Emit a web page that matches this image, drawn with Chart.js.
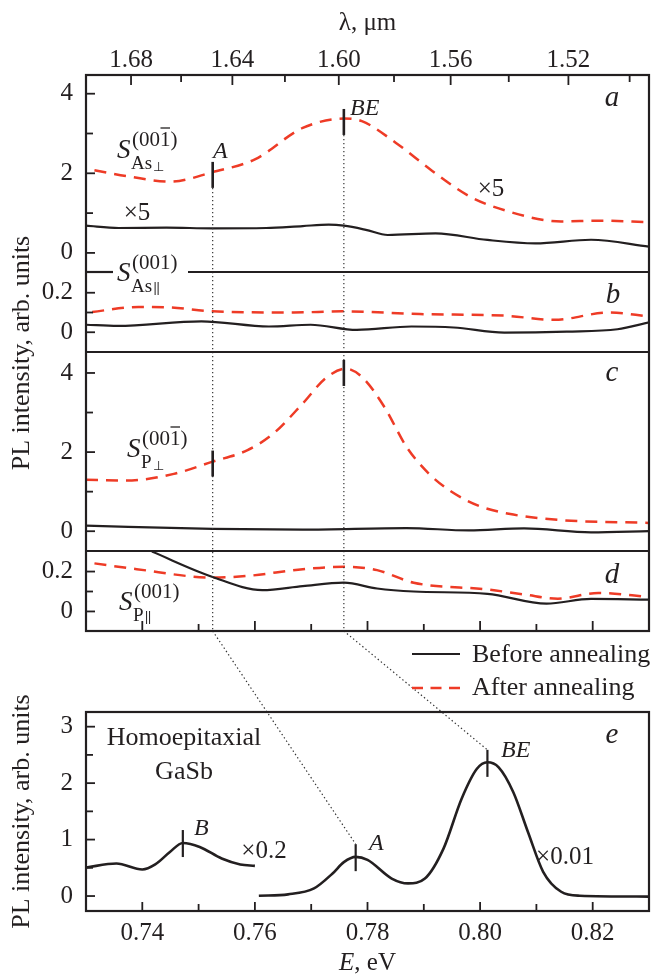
<!DOCTYPE html>
<html><head><meta charset="utf-8">
<script src="https://cdn.jsdelivr.net/npm/chart.js@4.4.1/dist/chart.umd.min.js"></script>
<style>html,body{margin:0;padding:0;background:#fff}canvas{display:block}</style>
</head><body>
<canvas id="c" width="655" height="979"></canvas>
<script>
// ---------------- data (photon energy in eV, PL intensity in arb. units) ----------------
const energyA_before = [0.7300,0.7358,0.7443,0.7525,0.7620,0.7685,0.7731,0.7758,0.7797,0.7836,0.7921,0.8013,0.8098,0.8197,0.8300];
const intensityA_before = [0.683,0.625,0.635,0.617,0.625,0.675,0.708,0.683,0.580,0.450,0.490,0.325,0.240,0.330,0.158];
const energyA_after = [0.7315,0.7380,0.7450,0.7525,0.7600,0.7685,0.7758,0.7790,0.7850,0.7915,0.7980,0.8046,0.8144,0.8210,0.8300];
const intensityA_after = [2.075,1.91,1.79,2.03,2.35,3.14,3.375,3.31,2.77,2.06,1.43,1.06,0.79,0.81,0.77];

const energyB_before = [0.7300,0.7356,0.7505,0.7625,0.7699,0.7781,0.7878,0.7953,0.8043,0.8154,0.8244,0.8300];
const intensityB_before = [0.038,0.032,0.055,0.029,0.038,0.012,0.029,0.024,-0.002,0.003,0.015,0.050];
const energyB_after = [0.7311,0.7393,0.7446,0.7524,0.7669,0.7755,0.7893,0.8043,0.8132,0.8229,0.8300];
const intensityB_after = [0.103,0.128,0.126,0.106,0.100,0.106,0.092,0.084,0.063,0.100,0.080];

const energyC_before = [0.7300,0.7525,0.7685,0.7869,0.7980,0.8078,0.8197,0.8300];
const intensityC_before = [0.14,0.06,0.04,0.08,0.02,0.07,-0.03,0.00];
const energyC_after = [0.7300,0.7371,0.7456,0.7525,0.7587,0.7633,0.7685,0.7725,0.7761,0.7790,0.7830,0.7869,0.7908,0.7948,0.8000,0.8059,0.8144,0.8300];
const intensityC_after = [1.30,1.28,1.45,1.76,2.05,2.47,3.23,3.86,4.11,3.90,3.14,2.14,1.47,1.01,0.63,0.42,0.28,0.21];

const energyD_before = [0.7417,0.7525,0.7613,0.7685,0.7758,0.7817,0.7882,0.8013,0.8118,0.8197,0.8300];
const intensityD_before = [0.300,0.173,0.107,0.127,0.144,0.115,0.100,0.088,0.039,0.063,0.059];
const energyD_after = [0.7315,0.7390,0.7525,0.7587,0.7685,0.7758,0.7817,0.7882,0.8013,0.8079,0.8138,0.8210,0.8300];
const intensityD_after = [0.241,0.212,0.170,0.178,0.212,0.224,0.207,0.144,0.110,0.085,0.064,0.093,0.073];

const energyE_low = [0.7300,0.7354,0.7400,0.7423,0.7449,0.7472,0.7502,0.7541,0.7574,0.7600];
const intensityE_low = [0.506,0.576,0.470,0.560,0.780,0.940,0.870,0.665,0.560,0.535];
const energyE_high = [0.7607,0.7659,0.7705,0.7738,0.7758,0.7779,0.7800,0.7843,0.7872,0.7902,0.7935,0.7967,0.7994,0.8013,0.8033,0.8059,0.8085,0.8112,0.8144,0.8177,0.8300];
const intensityE_high = [0.006,0.030,0.135,0.400,0.600,0.694,0.640,0.310,0.224,0.310,0.840,1.720,2.250,2.370,2.280,1.840,1.135,0.430,0.076,0.006,-0.010];

// peak markers: [energy, intensity]
const markersA = [[0.7525,1.96],[0.7758,3.29]];
const markersC = [[0.7525,1.71],[0.7758,4.00]];
const markersE = [[0.7472,0.93],[0.7779,0.68],[0.8013,2.35]];

// tick values / labels
const energyTicks = [0.74,0.75,0.76,0.77,0.78,0.79,0.80,0.81,0.82];
const energyLabels = ['0.74','','0.76','','0.78','','0.80','','0.82'];
const lambdaTicks = [1.68,1.66,1.64,1.62,1.60,1.58,1.56,1.54,1.52,1.50];
const lambdaLabels = ['1.68','','1.64','','1.60','','1.56','','1.52',''];
const ticksA = [0,1,2,3,4], labelsA = ['0','','2','','4'];
const ticksB = [0,0.1,0.2], labelsB = ['0','','0.2'];
const ticksC = [0,1,2,3,4], labelsC = ['0','','2','','4'];
const ticksD = [0,0.1,0.2], labelsD = ['0','','0.2'];
const ticksE = [0,0.5,1,1.5,2,2.5,3], labelsE = ['0','','1','','2','','3'];
const HC = 1.23984; // eV·µm

// ---------------- styles ----------------
const FONT = '"Liberation Serif", "Times New Roman", serif';
const INK = '#231f20', RED = '#ee3b26';

function pts(xs, ys){ return xs.map((v,i)=>({x:v, y:ys[i]})); }
function solid(xs, ys, axis, w){ return {data:pts(xs,ys), yAxisID:axis, borderColor:INK, borderWidth:w||2.2, pointRadius:0, cubicInterpolationMode:'monotone', fill:false}; }
function dashed(xs, ys, axis){ return {data:pts(xs,ys), yAxisID:axis, borderColor:RED, borderWidth:2.5, borderDash:[12,8], pointRadius:0, cubicInterpolationMode:'monotone', fill:false}; }

function yAxis(weight, stackWeight, min, max, tv, tl){
  return { type:'linear', position:'left', stack:'v', stackWeight, weight, min, max,
    grid:{display:false, drawTicks:false}, border:{display:false},
    afterBuildTicks: s => { s.ticks = tv.map(v=>({value:v})); },
    afterFit: s => { s.width = 86; },
    ticks:{ display: tl.length>0, color:INK, font:{family:FONT, size:25}, padding:13, callback:(v,i)=>tl[i] } };
}

function line(ctx,x1,y1,x2,y2){ ctx.beginPath(); ctx.moveTo(x1,y1); ctx.lineTo(x2,y2); ctx.stroke(); }
function T(ctx, s, x, y, size, o){ o=o||{}; ctx.font=(o.italic?'italic ':'')+size+'px '+FONT; ctx.textAlign=o.align||'left'; ctx.textBaseline=o.base||'alphabetic'; ctx.fillText(s,x,y); }
function sLabel(ctx, x, base, sub, subsub, bar){
  T(ctx,'S',x,base,27,{italic:true});
  ctx.font='italic 27px '+FONT; const w=ctx.measureText('S').width;
  const xs = x + w + 1.5;
  T(ctx,'(001)',xs,base-12,21);
  if(bar){
    ctx.font='21px '+FONT;
    const w1=ctx.measureText('(00').width, w2=ctx.measureText('1').width;
    ctx.save(); ctx.lineWidth=1.3; line(ctx, xs+w1+0.5, base-30, xs+w1+w2-0.5, base-30); ctx.restore();
  }
  T(ctx,sub,xs-1,base+11,19);
  ctx.font='19px '+FONT; const ws=ctx.measureText(sub).width;
  if(bar){ T(ctx,subsub,xs+ws,base+13,13); }
  else { ctx.save(); ctx.lineWidth=1; const bx=xs+ws+2; line(ctx,bx,base+1,bx,base+14); line(ctx,bx+3,base+1,bx+3,base+14); ctx.restore(); }
}

const annot = {
  id:'annot',
  beforeDraw(chart){ const c=chart.ctx; c.save(); c.fillStyle='#fff'; c.fillRect(0,0,chart.width,chart.height); c.restore(); },
  afterDraw(chart){
    const ctx=chart.ctx, s=chart.scales, x=s.x, x2=s.x2;
    const L=chart.chartArea.left, R=chart.chartArea.right;
    const ya=s.ya, yb=s.yb, yc=s.yc, yd=s.yd, ye=s.ye;
    ctx.save();
    ctx.fillStyle=INK; ctx.strokeStyle=INK;

    // dotted guide lines
    ctx.save(); ctx.setLineDash([1.4,2.6]); ctx.lineWidth=1.2; ctx.strokeStyle='#333';
    for(let k=0;k<2;k++){
      const xp = x.getPixelForValue(markersA[k][0]);
      line(ctx, xp, ya.getPixelForValue(markersA[k][1])+13, xp, yd.bottom);
      const me = markersE[k+1];
      line(ctx, xp, yd.bottom, x.getPixelForValue(me[0]), ye.getPixelForValue(me[1])-13.5);
    }
    ctx.restore();

    // frames
    ctx.lineWidth=2.2;
    ctx.strokeRect(L, ya.top, R-L, yd.bottom-ya.top);
    line(ctx, L, yb.top, 113, yb.top); line(ctx, 188, yb.top, R, yb.top);
    line(ctx, L, yc.top, R, yc.top);
    line(ctx, L, yd.top, R, yd.top);
    ctx.strokeRect(L, ye.top, R-L, ye.bottom-ye.top);

    // tick marks
    ctx.lineWidth=1.8;
    [[ya,ticksA,labelsA],[yb,ticksB,labelsB],[yc,ticksC,labelsC],[yd,ticksD,labelsD],[ye,ticksE,labelsE]].forEach(([sc,tv,tl])=>{
      tv.forEach((v,i)=>{ const y=sc.getPixelForValue(v); line(ctx, L, y, L+(tl[i]?9:7), y); });
    });
    lambdaTicks.forEach((l,i)=>{ const xp=x2.getPixelForValue(HC/l); line(ctx, xp, ya.top, xp, ya.top+(lambdaLabels[i]?10:7)); });
    energyTicks.forEach((e,i)=>{ const xp=x.getPixelForValue(e); const len=energyLabels[i]?10:7;
      line(ctx, xp, yd.bottom, xp, yd.bottom-len); line(ctx, xp, ye.bottom, xp, ye.bottom-(energyLabels[i]?9:7)); });

    // peak markers
    ctx.lineWidth=2.6;
    markersA.forEach(m=>{ const xp=x.getPixelForValue(m[0]), y=ya.getPixelForValue(m[1]); line(ctx,xp,y-13,xp,y+13); });
    markersC.forEach(m=>{ const xp=x.getPixelForValue(m[0]), y=yc.getPixelForValue(m[1]); line(ctx,xp,y-13,xp,y+13); });
    ctx.lineWidth=2.2;
    markersE.forEach(m=>{ const xp=x.getPixelForValue(m[0]), y=ye.getPixelForValue(m[1]); line(ctx,xp,y-13.5,xp,y+13.5); });

    // panel a
    T(ctx,'A',213,158,24,{italic:true});
    T(ctx,'BE',350,115,24,{italic:true});
    T(ctx,'\u00d75',137,213,25,{align:'center',base:'middle'});
    T(ctx,'\u00d75',491,189,25,{align:'center',base:'middle'});
    T(ctx,'a',612,98,29,{italic:true,align:'center',base:'middle'});
    sLabel(ctx,117,158,'As','\u22a5',true);
    sLabel(ctx,117,281,'As','\u2016',false);
    // panel b, c, d
    T(ctx,'b',613,295,29,{italic:true,align:'center',base:'middle'});
    T(ctx,'c',612,373,29,{italic:true,align:'center',base:'middle'});
    sLabel(ctx,127,457,'P','\u22a5',true);
    T(ctx,'d',612,575,29,{italic:true,align:'center',base:'middle'});
    sLabel(ctx,119,610,'P','\u2016',false);
    // panel e
    T(ctx,'Homoepitaxial',184,745,26,{align:'center'});
    T(ctx,'GaSb',184,779,26,{align:'center'});
    T(ctx,'B',194,835,24,{italic:true});
    T(ctx,'A',369,850,24,{italic:true});
    T(ctx,'BE',501,757,24,{italic:true});
    T(ctx,'\u00d70.2',264,851,25,{align:'center',base:'middle'});
    T(ctx,'\u00d70.01',565,857,25,{align:'center',base:'middle'});
    T(ctx,'e',612,735,29,{italic:true,align:'center',base:'middle'});

    // legend
    ctx.lineWidth=2.2; line(ctx,412,654,460,654);
    ctx.save(); ctx.strokeStyle=RED; ctx.lineWidth=2.5; ctx.setLineDash([11,7.5]); line(ctx,412,688,460,688); ctx.restore();
    T(ctx,'Before annealing',472,662,26);
    T(ctx,'After annealing',472,695,26);

    // axis titles
    T(ctx,'\u03bb, \u03bcm',(L+R)/2,23,25,{align:'center',base:'middle'});
    ctx.font='italic 25px '+FONT; const wE=ctx.measureText('E').width;
    ctx.font='25px '+FONT; const wR=ctx.measureText(', eV').width;
    const x0=(L+R)/2-(wE+wR)/2;
    T(ctx,'E',x0,970,25,{italic:true}); T(ctx,', eV',x0+wE,970,25);
    [[353],[ (ye.top+ye.bottom)/2 ]].forEach(([cy])=>{
      ctx.save(); ctx.translate(22,cy); ctx.rotate(-Math.PI/2);
      T(ctx,'PL intensity, arb. units',0,0,26,{align:'center',base:'middle'}); ctx.restore();
    });
    ctx.restore();
  }
};

new Chart(document.getElementById('c'), {
  type:'line',
  data:{ datasets:[
    solid(energyA_before,intensityA_before,'ya'), dashed(energyA_after,intensityA_after,'ya'),
    solid(energyB_before,intensityB_before,'yb'), dashed(energyB_after,intensityB_after,'yb'),
    solid(energyC_before,intensityC_before,'yc'), dashed(energyC_after,intensityC_after,'yc'),
    solid(energyD_before,intensityD_before,'yd'), dashed(energyD_after,intensityD_after,'yd'),
    solid(energyE_low,intensityE_low,'ye',2.6), solid(energyE_high,intensityE_high,'ye',2.6)
  ]},
  options:{
    responsive:false, animation:false, devicePixelRatio:1,
    layout:{padding:{left:0,right:6,top:0,bottom:0}},
    plugins:{legend:{display:false}, tooltip:{enabled:false}},
    scales:{
      x:{ type:'linear', position:'bottom', min:0.73, max:0.83,
        grid:{display:false, drawTicks:false}, border:{display:false},
        afterBuildTicks: s => { s.ticks = energyTicks.map(v=>({value:v})); },
        afterFit: s => { s.height = 68; },
        ticks:{ color:INK, font:{family:FONT,size:25}, padding:7, maxRotation:0, autoSkip:false, callback:(v,i)=>energyLabels[i] } },
      x2:{ type:'linear', position:'top', min:0.73, max:0.83,
        grid:{display:false, drawTicks:false}, border:{display:false},
        afterBuildTicks: s => { s.ticks = lambdaTicks.map(l=>({value:HC/l})); },
        afterFit: s => { s.height = 75; },
        ticks:{ color:INK, font:{family:FONT,size:25}, padding:0, maxRotation:0, autoSkip:false, callback:(v,i)=>lambdaLabels[i] } },
      ya: yAxis(6,197,-0.48,4.47,ticksA,labelsA),
      yb: yAxis(5,80,-0.10,0.305,ticksB,labelsB),
      yc: yAxis(4,199,-0.50,4.53,ticksC,labelsC),
      yd: yAxis(3,80,-0.098,0.303,ticksD,labelsD),
      yg: yAxis(2,81,0,1,[],[]),
      ye: yAxis(1,199,-0.265,3.26,ticksE,labelsE)
    }
  },
  plugins:[annot]
});
</script></body></html>
